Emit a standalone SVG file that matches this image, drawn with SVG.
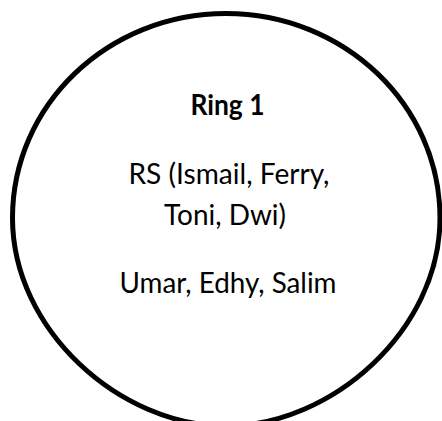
<svg xmlns="http://www.w3.org/2000/svg" width="442" height="421" viewBox="0 0 442 421">
<style>
.t{font-family:Lato,"Open Sans","Liberation Sans",sans-serif;font-size:28px;fill:#000;text-anchor:middle}
.b{font-weight:bold}
.ring{fill:none;stroke:#000;stroke-width:5}
</style>
<rect width="442" height="421" fill="#fff"/>
<g id="ring1">
<path class="ring" d="M226,13.5 C344.2,13.5 440,105 440,218 C440,330 332,426 226,426 C120,426 12.5,330 12.5,218 C12.5,105 107.8,13.5 226,13.5 Z"/>
<text class="t b" x="227.5" y="115" textLength="74" lengthAdjust="spacingAndGlyphs">Ring 1</text>
<text class="t" x="229" y="183.5" textLength="201" lengthAdjust="spacingAndGlyphs">RS (Ismail, Ferry,</text>
<text class="t" x="225" y="225" textLength="122" lengthAdjust="spacingAndGlyphs">Toni, Dwi)</text>
<text class="t" x="228" y="293" textLength="217" lengthAdjust="spacingAndGlyphs">Umar, Edhy, Salim</text>
</g>
</svg>
